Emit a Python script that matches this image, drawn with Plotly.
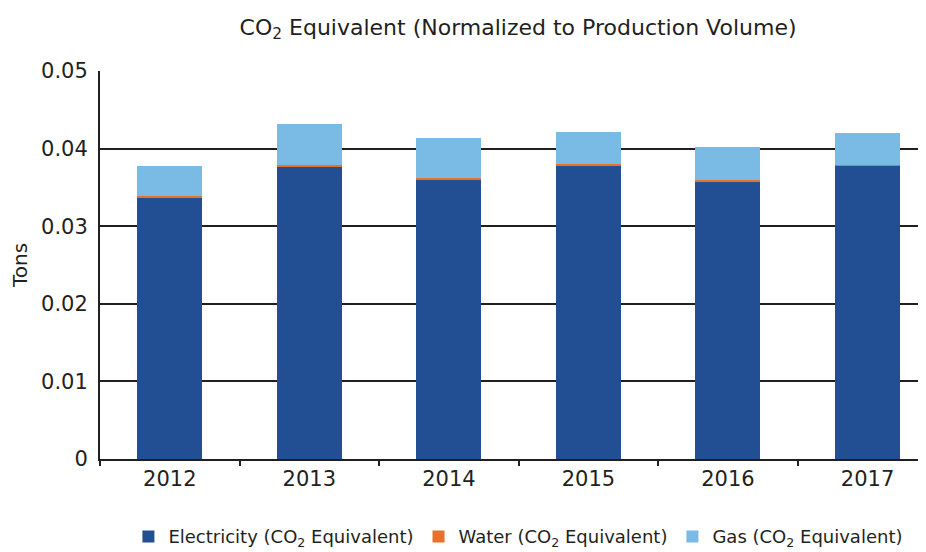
import plotly.graph_objects as go

years = ["2012", "2013", "2014", "2015", "2016", "2017"]
electricity = [0.03363, 0.03763, 0.03595, 0.03776, 0.03582, 0.03780]
water = [0.00026, 0.00030, 0.00030, 0.00030, 0.00017, 0.00013]
gas = [0.00387, 0.00524, 0.00512, 0.00408, 0.00418, 0.00408]

y_tick_vals = [0, 0.01, 0.02, 0.03, 0.04, 0.05]
y_tick_text = ["0", "0.01", "0.02", "0.03", "0.04", "0.05"]

series_names = ["Electricity (CO<sub>2</sub> Equivalent)",
                "Water (CO<sub>2</sub> Equivalent)",
                "Gas (CO<sub>2</sub> Equivalent)"]
colors = ["#224f94", "#e8702a", "#79bbe5"]

FONT = "DejaVu Sans"
INK = "#231f20"
# the page body adds an 8px margin, so the figure is sized to fit the window
W, H = 918, 544
fig = go.Figure()
for name, vals, col in zip(series_names, [electricity, water, gas], colors):
    fig.add_trace(go.Bar(x=years, y=vals, name=name, marker_color=col,
                         marker_line_width=0, width=0.466))

fig.update_layout(
    width=W, height=H,
    barmode="stack",
    paper_bgcolor="white", plot_bgcolor="white",
    font=dict(family=FONT, color=INK),
    margin=dict(l=92, r=0, t=63, b=93, autoexpand=False),
    title=dict(text="CO<sub>2</sub> Equivalent (Normalized to Production Volume)",
               x=0.5556, xanchor="center", y=0.965, yanchor="middle",
               font=dict(size=22, family=FONT, color=INK)),
    legend=dict(orientation="h", xref="container", x=0.556, xanchor="center",
                yref="container", y=0.028, yanchor="middle",
                traceorder="normal", font=dict(size=18, family=FONT, color=INK),
                itemwidth=30),
    showlegend=True,
)
fig.update_xaxes(
    range=[-0.5, 5.419], showline=True, linecolor=INK, linewidth=2,
    ticks="outside", tickson="boundaries", ticklen=5, tickcolor=INK, tickwidth=2,
    tickfont=dict(size=21, family=FONT, color=INK), showgrid=False, automargin=False,
)
fig.update_yaxes(
    range=[0, 0.05], tickmode="array", tickvals=y_tick_vals, ticktext=y_tick_text,
    showline=True, linecolor=INK, linewidth=2,
    showgrid=True, gridcolor=INK, gridwidth=2, zeroline=False,
    ticks="", ticklabelstandoff=6, automargin=False,
    tickfont=dict(size=21, family=FONT, color=INK),
    title=dict(text="Tons", font=dict(size=20, family=FONT, color=INK), standoff=8),
)
fig.write_html("out.html")
